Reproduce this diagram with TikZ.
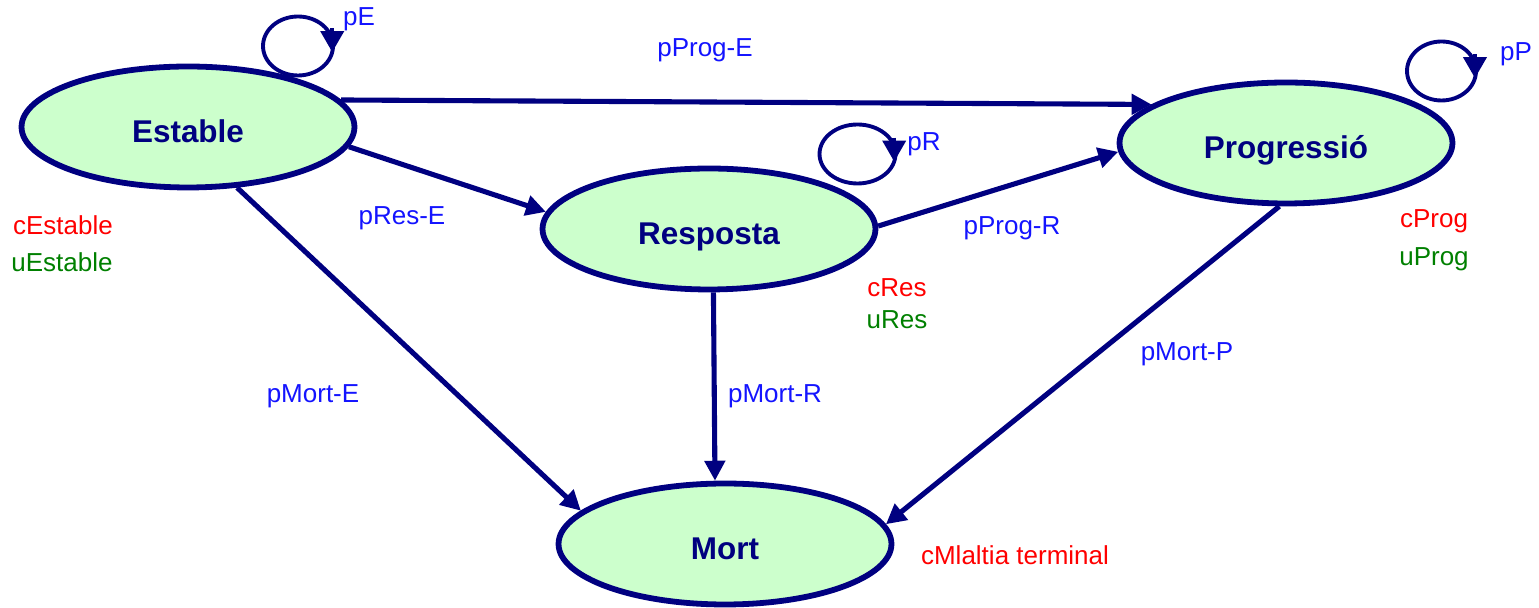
\documentclass[tikz,border=0pt]{standalone}
\usepackage{fontspec}
\setmainfont{Liberation Sans}
\usetikzlibrary{
    arrows.meta,
    calc,
    shapes.geometric
}
\definecolor{statenavy}{RGB}{0,0,128}
\definecolor{statefill}{RGB}{204,255,204}
\definecolor{probblue}{RGB}{20,20,255}
\definecolor{costred}{RGB}{255,0,0}
\definecolor{utilgreen}{RGB}{0,128,0}
\tikzset{
    state/.style={ellipse, draw=statenavy, fill=statefill, line width=3.3pt,
        minimum width=6.66cm, minimum height=2.42cm, inner sep=0pt,
        text height=0.64cm, text depth=0pt,
        font=\fontsize{17.9}{20}\selectfont\bfseries, text=statenavy},
    transition/.style={-{Triangle[length=0.4cm,width=0.4cm]}, line width=2.9pt, statenavy},
    selfloop/.style={line width=2.2pt, statenavy},
    looptip/.style={-{Triangle[length=0.42cm,width=0.46cm]}, line width=2.2pt, statenavy},
    prob/.style={font=\fontsize{14.8}{17}\selectfont, text=probblue, inner sep=0pt},
    cost/.style={font=\fontsize{14.8}{17}\selectfont, text=costred, inner sep=0pt},
    util/.style={font=\fontsize{14.8}{17}\selectfont, text=utilgreen, inner sep=0pt}
}

\begin{document}
\begin{tikzpicture}[x=0.02cm, y=0.02cm]
    \useasboundingbox (0,0) rectangle (1539,608);
    % states
    \node[state] (estable)    at (188,481)  {Estable};
    \node[state] (resposta)   at (709,379)  {Resposta};
    \node[state] (progressio) at (1286,465) {Progressió};
    \node[state] (mort)       at (725,64)   {Mort};
    % transitions
    \draw[transition] (estable.10.7)    -- (progressio.164.6);
    \draw[transition] (estable.-7.4)    -- (resposta.174);
    \draw[transition] (resposta.1.7)    -- (progressio.183.3);
    \draw[transition] (estable.-51.2)   -- (mort.167);
    \draw[transition] (resposta.-86.2)  -- (mort.99.2);
    \draw[transition] (progressio.-96.1) -- (mort.7.1);
    % self loops (centres and arrow tips)
    \coordinate (estableloop)    at ($(estable)+(110,81)$);
    \coordinate (respostaloop)   at ($(resposta)+(148.5,75)$);
    \coordinate (progressioloop) at ($(progressio)+(155.5,72)$);
    \coordinate (establetip)    at ($(estableloop)+(-12:0.7cm and 0.59cm)$);
    \coordinate (respostatip)   at ($(respostaloop)+(-15:0.76cm and 0.59cm)$);
    \coordinate (progressiotip) at ($(progressioloop)+(-14:0.69cm and 0.59cm)$);
    \draw[selfloop] (estableloop) ellipse[x radius=0.7cm, y radius=0.59cm];
    \draw[selfloop] (respostaloop) ellipse[x radius=0.76cm, y radius=0.59cm];
    \draw[selfloop] (progressioloop) ellipse[x radius=0.69cm, y radius=0.59cm];
    \draw[looptip] ($(establetip)+(0,24)$) -- (establetip);
    \draw[looptip] ($(respostatip)+(0,24)$) -- (respostatip);
    \draw[looptip] ($(progressiotip)+(0,24)$) -- (progressiotip);
    % probabilities
    \node[prob] (pE)     at (359,589)  {pE};
    \node[prob] (pR)     at (924,464)  {pR};
    \node[prob] (pP)     at (1516,554) {pP};
    \node[prob] (pProgE) at (705,558)  {pProg-E};
    \node[prob] (pResE)  at (402,390)  {pRes-E};
    \node[prob] (pProgR) at (1012,380) {pProg-R};
    \node[prob] (pMortE) at (313,212)  {pMort-E};
    \node[prob] (pMortR) at (775,212)  {pMort-R};
    \node[prob] (pMortP) at (1187,254) {pMort-P};
    % costs and utilities
    \node[cost] (cEstable) at (63,383)   {cEstable};
    \node[util] (uEstable) at (62,346)   {uEstable};
    \node[cost] (cRes)     at (897,320)  {cRes};
    \node[util] (uRes)     at (897,288)  {uRes};
    \node[cost] (cProg)    at (1434,387) {cProg};
    \node[util] (uProg)    at (1434,349) {uProg};
    \node[cost] (cMort)    at (1015,53)  {cMlaltia terminal};
\end{tikzpicture}
\end{document}
